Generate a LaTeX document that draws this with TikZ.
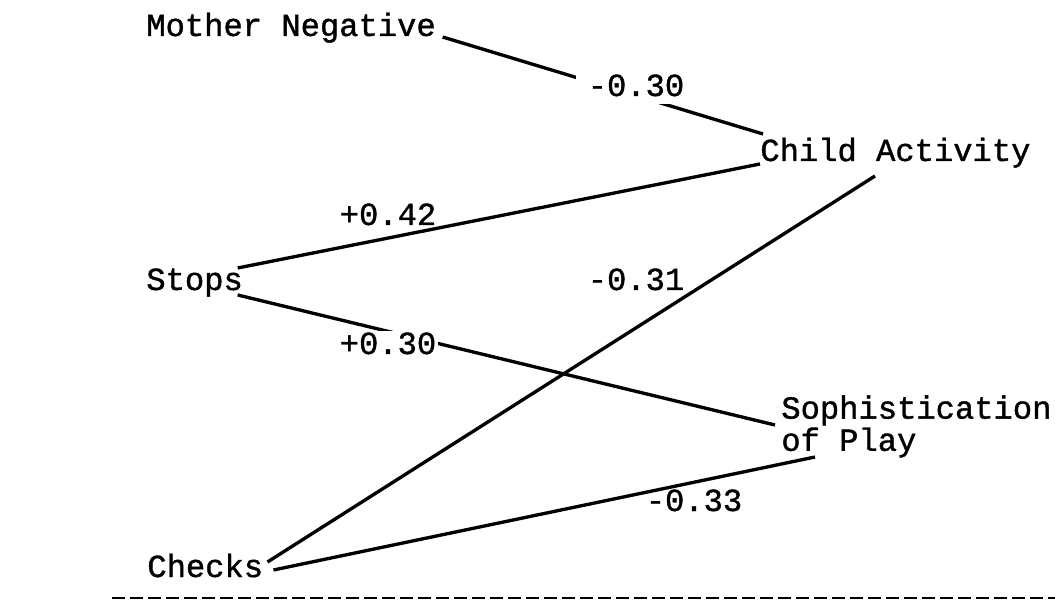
\documentclass[tikz,border=0pt]{standalone}
\usepackage{fontspec}
\newfontfamily\typefont{Liberation Mono}[FakeBold=1.2]

\begin{document}
\begin{tikzpicture}[x=0.02cm, y=-0.02cm,
  v/.style={inner sep=0pt, anchor=base west, font=\typefont\fontsize{18.3}{18.3}\selectfont},
  lab/.style={inner sep=1.1pt, anchor=base, font=\typefont\fontsize{18.3}{18.3}\selectfont},
  e/.style={line width=1.9pt}]
\useasboundingbox (0,0) rectangle (1055,604);
% variables
\node[v] (mn) at (146,36) {Mother Negative};
\node[v] (ca) at (760,161) {Child Activity};
\node[v] (st) at (146,290) {Stops};
\node[v, anchor=north west, align=left] (sp) at (781,395) {Sophistication\\of Play};
\node[v] (ch) at (147,577) {Checks};
% paths
\draw[e] ([shift={(6.5,1)}]mn.base east) -- ([shift={(3,-27)}]ca.base west);
\draw[e] ([shift={(-5.5,-22)}]st.base east) -- ([shift={(0,3)}]ca.base west);
\draw[e] ([shift={(-5.5,5)}]st.base east) -- ([shift={(-6,30)}]sp.north west);
\draw[e] ([shift={(4,-15)}]ch.base east) -- ([shift={(115,15)}]ca.base west);
\draw[e] ([shift={(10,-7)}]ch.base east) -- ([shift={(34,62)}]sp.north west);
% coefficients
\node[lab, fill=white, inner xsep=6.8pt, inner ysep=4.5pt] (c1) at (636,96) {-0.30};
\node[lab] (c2) at (388,225) {+0.42};
\node[lab] (c3) at (636,290) {-0.31};
\node[lab, fill=white] (c4) at (388,354) {+0.30};
\node[lab] (c5) at (694,511) {-0.33};
% rule
\coordinate (r0) at (112,598);
\coordinate (r1) at (1055,598);
\draw[line width=1.6pt, dash pattern=on 7.4pt off 2.85pt] (r0) -- (r1);
\end{tikzpicture}
\end{document}
